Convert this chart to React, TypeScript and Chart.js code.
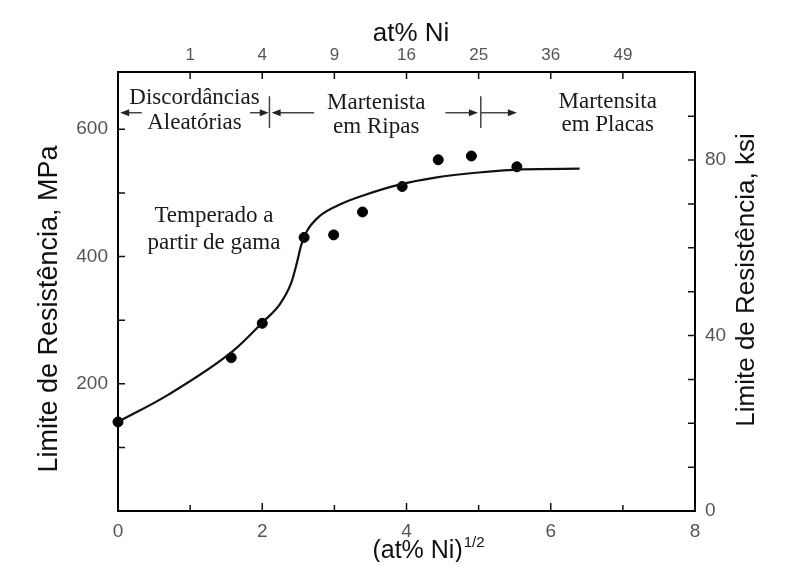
import React, { useEffect, useRef } from "react";
import { Chart, registerables } from "chart.js";

Chart.register(...registerables);

// ---- data ----
const curveX = [0, 0.7, 1.6, 2.0, 2.25, 2.4, 2.48, 2.54, 2.62, 2.8, 3.1, 3.4, 3.9, 4.4, 5.0, 5.6, 6.4];
const curveMPa = [140, 183, 252, 296, 326, 358, 390, 418, 440, 464, 483, 496, 513, 524, 532, 537, 538];
const pointX = [0, 1.57, 2.0, 2.58, 2.99, 3.39, 3.94, 4.44, 4.9, 5.53];
const pointMPa = [140, 241, 295, 430, 434, 470, 510, 552, 558, 541];

const bottomTicks = [0, 2, 4, 6, 8];
const topTickLabels = [1, 4, 9, 16, 25, 36, 49];
const leftTicks = [200, 400, 600];
const rightTicks = [0, 40, 80];
const MPA_PER_KSI = 6.895;
const Y_MAX = 690;
const X_MAX = 8;

const regionLines = [
  ["Discordâncias", "Aleatórias"],
  ["Martenista", "em Ripas"],
  ["Martensita", "em Placas"],
  ["Temperado a", "partir de gama"],
];
const regionX = [1.06, 3.58, 6.79, 1.33];
const regionLine1MPa = [649, 642, 643, 463];
const regionLine2MPa = [610, 604, 607, 422];

const arrowFromX = [0.33, 1.83, 2.72, 4.54, 5.03];
const arrowToX = [0.03, 2.09, 2.13, 4.99, 5.53];
const arrowMPa = 626;
const separatorX = [2.1, 5.03];
const separatorMPa = [602, 652];

const titleLeft = "Limite de Resistência, MPa";
const titleRight = "Limite de Resistência, ksi";
const titleTop = "at% Ni";
const titleBottom = "(at% Ni)";
const titleBottomSup = "1/2";

const SANS = "'Liberation Sans', Arial, sans-serif";
const SERIF = "'Liberation Serif', 'Times New Roman', serif";

const overlayPlugin = {
  id: "overlay",
  afterDraw(chart: any) {
    const { ctx, chartArea: ca, scales } = chart;
    const xs = scales.x;
    const ys = scales.y;
    const y2 = scales.y2;
    ctx.save();

    // inward tick marks
    ctx.strokeStyle = "#111";
    ctx.lineWidth = 1.5;
    ctx.beginPath();
    for (let v = 0; v <= X_MAX; v++) {
      const px = xs.getPixelForValue(v);
      ctx.moveTo(px, ca.bottom);
      ctx.lineTo(px, ca.bottom - (v % 2 === 0 ? 8 : 6));
    }
    for (const t of topTickLabels) {
      const px = xs.getPixelForValue(Math.sqrt(t));
      ctx.moveTo(px, ca.top);
      ctx.lineTo(px, ca.top + 7);
    }
    for (let v = 100; v <= Y_MAX; v += 100) {
      const py = ys.getPixelForValue(v);
      ctx.moveTo(ca.left, py);
      ctx.lineTo(ca.left + 7, py);
    }
    for (let v = 10; v <= 100; v += 10) {
      const py = y2.getPixelForValue(v);
      ctx.moveTo(ca.right + 1, py);
      ctx.lineTo(ca.right - 7, py);
    }
    ctx.stroke();

    // region labels
    ctx.fillStyle = "#1a1a1a";
    ctx.font = `23px ${SERIF}`;
    ctx.textAlign = "center";
    ctx.textBaseline = "middle";
    regionLines.forEach((lines, i) => {
      const px = xs.getPixelForValue(regionX[i]);
      ctx.fillText(lines[0], px, ys.getPixelForValue(regionLine1MPa[i]));
      ctx.fillText(lines[1], px, ys.getPixelForValue(regionLine2MPa[i]));
    });

    // separators
    ctx.strokeStyle = "#444";
    ctx.lineWidth = 1.5;
    ctx.beginPath();
    for (const sx of separatorX) {
      const px = xs.getPixelForValue(sx);
      ctx.moveTo(px, ys.getPixelForValue(separatorMPa[0]));
      ctx.lineTo(px, ys.getPixelForValue(separatorMPa[1]));
    }
    ctx.stroke();

    // arrows
    const ay = ys.getPixelForValue(arrowMPa);
    ctx.fillStyle = "#222";
    arrowFromX.forEach((fx, i) => {
      const x0 = xs.getPixelForValue(fx);
      const x1 = xs.getPixelForValue(arrowToX[i]);
      const dir = Math.sign(x1 - x0);
      ctx.beginPath();
      ctx.moveTo(x0, ay);
      ctx.lineTo(x1 - dir * 6, ay);
      ctx.stroke();
      ctx.beginPath();
      ctx.moveTo(x1, ay);
      ctx.lineTo(x1 - dir * 9, ay - 3.5);
      ctx.lineTo(x1 - dir * 9, ay + 3.5);
      ctx.closePath();
      ctx.fill();
    });

    // axis titles
    ctx.fillStyle = "#111";
    ctx.font = `27px ${SANS}`;
    ctx.save();
    ctx.translate(ca.left - 68, ca.top + 237);
    ctx.rotate(-Math.PI / 2);
    ctx.fillText(titleLeft, 0, 0);
    ctx.restore();

    ctx.font = `26px ${SANS}`;
    ctx.save();
    ctx.translate(ca.right + 52, ca.top + 208);
    ctx.rotate(-Math.PI / 2);
    ctx.fillText(titleRight, 0, 0);
    ctx.restore();

    ctx.font = `26px ${SANS}`;
    ctx.fillText(titleTop, ca.left + 293, ca.top - 38);

    ctx.font = `25px ${SANS}`;
    const w1 = ctx.measureText(titleBottom).width;
    ctx.font = `15px ${SANS}`;
    const w2 = ctx.measureText(titleBottomSup).width;
    const cx = ca.left + 310;
    const startX = cx - (w1 + w2) / 2;
    ctx.textAlign = "left";
    ctx.font = `25px ${SANS}`;
    ctx.fillText(titleBottom, startX, ca.bottom + 40);
    ctx.font = `15px ${SANS}`;
    ctx.fillText(titleBottomSup, startX + w1 + 1, ca.bottom + 32);

    ctx.restore();
  },
};

const tickFont = { family: SANS, size: 19 };

export default function App() {
  const ref = useRef<HTMLCanvasElement | null>(null);
  useEffect(() => {
    if (!ref.current) return;
    const chart = new Chart(ref.current, {
      type: "scatter",
      data: {
        datasets: [
          {
            label: "curve",
            data: curveX.map((x, i) => ({ x, y: curveMPa[i] })),
            showLine: true,
            borderColor: "#111",
            borderWidth: 2.2,
            pointRadius: 0,
            cubicInterpolationMode: "monotone",
            clip: false,
            xAxisID: "x",
            yAxisID: "y",
          },
          {
            label: "points",
            data: pointX.map((x, i) => ({ x, y: pointMPa[i] })),
            showLine: false,
            backgroundColor: "#000",
            borderColor: "#000",
            pointRadius: 5,
            clip: false,
            xAxisID: "x",
            yAxisID: "y",
          },
        ],
      },
      options: {
        animation: false,
        responsive: false,
        layout: { padding: 0 },
        plugins: { legend: { display: false }, tooltip: { enabled: false } },
        scales: {
          x: {
            type: "linear",
            position: "bottom",
            min: 0,
            max: X_MAX,
            grid: { display: false, drawTicks: false },
            border: { display: true, color: "#000", width: 2 },
            ticks: { padding: 9, color: "#555", font: tickFont, autoSkip: false, maxRotation: 0 },
            afterBuildTicks: (s: any) => {
              s.ticks = bottomTicks.map((v) => ({ value: v }));
            },
            afterFit: (s: any) => {
              s.height = 51;
            },
          },
          x2: {
            type: "linear",
            position: "top",
            display: true,
            min: 0,
            max: X_MAX,
            grid: { display: false, drawTicks: false },
            border: { display: true, color: "#000", width: 2 },
            ticks: {
              padding: 6,
              color: "#555",
              font: { family: SANS, size: 17 },
              autoSkip: false,
              maxRotation: 0,
              callback: (v: any) => String(Math.round(Number(v) * Number(v))),
            },
            afterBuildTicks: (s: any) => {
              s.ticks = topTickLabels.map((v) => ({ value: Math.sqrt(v) }));
            },
            afterFit: (s: any) => {
              s.height = 64;
            },
          },
          y: {
            type: "linear",
            position: "left",
            min: 0,
            max: Y_MAX,
            grid: { display: false, drawTicks: false },
            border: { display: true, color: "#000", width: 2 },
            ticks: { padding: 10, color: "#555", font: tickFont },
            afterBuildTicks: (s: any) => {
              s.ticks = leftTicks.map((v) => ({ value: v }));
            },
            afterFit: (s: any) => {
              s.width = 110;
            },
          },
          y2: {
            type: "linear",
            position: "right",
            display: true,
            min: 0,
            max: Y_MAX / MPA_PER_KSI,
            grid: { display: false, drawTicks: false },
            border: { display: true, color: "#000", width: 2 },
            ticks: { padding: 10, color: "#555", font: tickFont },
            afterBuildTicks: (s: any) => {
              s.ticks = rightTicks.map((v) => ({ value: v }));
            },
            afterFit: (s: any) => {
              s.width = 94;
            },
          },
        },
      },
      plugins: [overlayPlugin],
    } as any);
    return () => chart.destroy();
  }, []);

  return (
    <div style={{ width: 781, height: 554 }}>
      <canvas ref={ref} width={781} height={554} style={{ display: "block" }} />
    </div>
  );
}
